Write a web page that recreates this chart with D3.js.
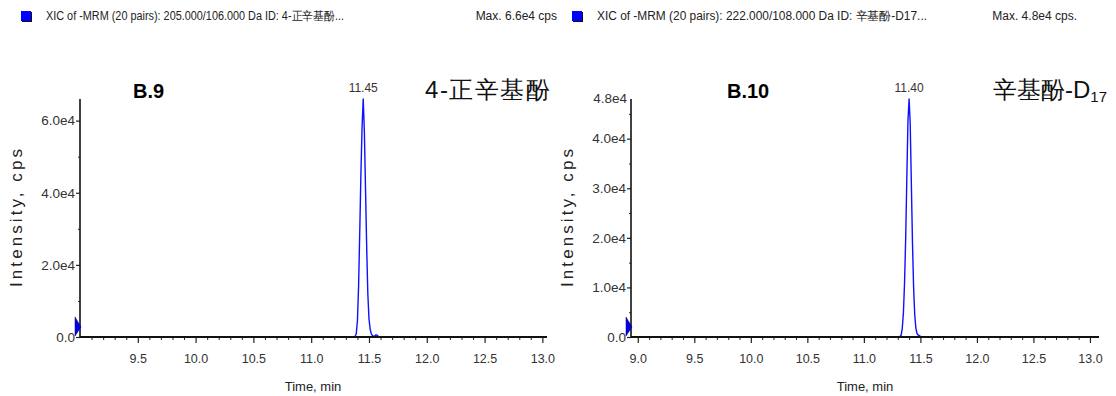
<!DOCTYPE html>
<html><head><meta charset="utf-8">
<script src="https://cdn.jsdelivr.net/npm/d3@7"></script>
<style>
html,body{margin:0;padding:0;background:#fff;}
svg{display:block;}
text{font-family:"Liberation Sans",Arial,sans-serif;}
</style></head>
<body>
<svg id="c" width="1116" height="396"></svg>
<script>
// ---- data ----
const leftTitle = "XIC of -MRM (20 pairs): 205.000/106.000 Da ID: 4-正辛基酚...";
const leftMax = "Max. 6.6e4 cps";
const rightTitle = "XIC of -MRM (20 pairs): 222.000/108.000 Da ID: 辛基酚-D17...";
const rightMax = "Max. 4.8e4 cps.";

const leftTime = [9.00, 11.37, 11.38, 11.39, 11.40, 11.41, 11.42, 11.43, 11.44, 11.45, 11.46, 11.47, 11.48, 11.49, 11.50, 11.51, 11.52, 11.53, 11.54, 11.55, 11.56, 11.57, 11.58, 11.59, 13.04];
const leftIntensity = [0, 0, 200, 900, 4500, 14000, 29000, 45000, 58000, 66000, 57000, 41000, 25000, 12000, 5000, 2200, 900, 400, 200, 300, 600, 500, 150, 0, 0];

const rightTime = [8.94, 11.31, 11.32, 11.33, 11.34, 11.35, 11.36, 11.37, 11.38, 11.39, 11.40, 11.41, 11.42, 11.43, 11.44, 11.45, 11.46, 11.47, 11.48, 11.49, 11.50, 11.51, 13.08];
const rightIntensity = [0, 0, 100, 400, 1800, 5000, 11000, 20000, 32000, 43500, 48000, 43000, 31000, 19000, 10000, 4500, 1800, 700, 400, 300, 150, 0, 0];

const leftYTicks = [0, 20000, 40000, 60000];
const leftYTickLabels = ["0.0", "2.0e4", "4.0e4", "6.0e4"];
const leftYMinor = [10000, 30000, 50000];
const rightYTicks = [0, 10000, 20000, 30000, 40000];
const rightYTickLabels = ["0.0", "1.0e4", "2.0e4", "3.0e4", "4.0e4"];
const rightYMinor = [5000, 15000, 25000, 35000, 45000];

const leftXTicks = [9.5, 10.0, 10.5, 11.0, 11.5, 12.0, 12.5, 13.0];
const rightXTicks = [9.0, 9.5, 10.0, 10.5, 11.0, 11.5, 12.0, 12.5, 13.0];
const xMinor = [9.1,9.2,9.3,9.4,9.6,9.7,9.8,9.9,10.1,10.2,10.3,10.4,10.6,10.7,10.8,10.9,11.1,11.2,11.3,11.4,11.6,11.7,11.8,11.9,12.1,12.2,12.3,12.4,12.6,12.7,12.8,12.9];

const leftPeakLabel = {t: 11.45, v: 66000, text: "11.45"};
const rightPeakLabel = {t: 11.40, v: 48000, text: "11.40"};

const svg = d3.select("#c");

function panel(o){
  const g = svg.append("g");
  const x = d3.scaleLinear().domain(o.xDomain).range(o.xRange);
  const y = d3.scaleLinear().domain(o.yDomain).range([337, 99]);

  // header
  g.append("rect").attr("x", o.hx+1).attr("y", 12).attr("width", 10).attr("height", 10).attr("fill", "#111");
  g.append("rect").attr("x", o.hx).attr("y", 11).attr("width", 10).attr("height", 10).attr("fill", "#0000ff");
  g.append("text").attr("x", o.hx+25).attr("y", 20).attr("font-size", 12).attr("fill","#222").text(o.title)
    .attr("textLength", o.titleLen).attr("lengthAdjust","spacingAndGlyphs");
  g.append("text").attr("x", o.maxX).attr("y", 20).attr("font-size", 12).attr("fill","#222")
    .attr("text-anchor","end").text(o.maxText);

  // line
  const line = d3.line().x((d,i)=>x(o.time[i])).y(d=>y(d));
  g.append("path").datum(o.vals).attr("d", line).attr("fill","none")
    .attr("stroke","#1010ff").attr("stroke-width",1.4).attr("stroke-linejoin","round");

  // peak label
  g.append("text").attr("x", x(o.peak.t)).attr("y", y(o.peak.v)-7).attr("font-size", 12)
    .attr("text-anchor","middle").attr("fill","#3a3030").text(o.peak.text);

  // y axis
  const ya = g.append("g").attr("transform", `translate(${o.xRange[0]},0)`)
    .call(d3.axisLeft(y).tickValues(o.yTicks).tickFormat((d,i)=>o.yLabels[i]).tickSize(4).tickPadding(1));
  ya.select(".domain").remove();
  ya.selectAll(".tick line").attr("stroke","#222").attr("stroke-width",1.2);
  ya.selectAll("text").attr("font-size", 13.5).attr("fill","#333");
  g.append("g").attr("transform", `translate(${o.xRange[0]},0)`)
    .call(d3.axisLeft(y).tickValues(o.yMinor).tickFormat("").tickSize(2))
    .call(s=>{s.select(".domain").remove(); s.selectAll("line").attr("stroke","#333");});
  if (o.topLabel) {
    g.append("text").attr("x", o.xRange[0]-4).attr("y", 103).attr("font-size",13.5).attr("fill","#333")
      .attr("text-anchor","end").text(o.topLabel);
  }
  g.append("line").attr("x1", o.xRange[0]).attr("x2", o.xRange[0]).attr("y1", 99).attr("y2", 338)
    .attr("stroke","#111").attr("stroke-width",1.6);

  // x axis
  const xa = g.append("g").attr("transform","translate(0,337)")
    .call(d3.axisBottom(x).tickValues(o.xTicks).tickFormat(d3.format(".1f")).tickSize(6).tickPadding(11));
  xa.select(".domain").remove();
  xa.selectAll(".tick line").attr("stroke","#222").attr("stroke-width",1.2);
  xa.selectAll("text").attr("font-size", 12.5).attr("fill","#333");
  g.append("g").attr("transform","translate(0,337)")
    .call(d3.axisBottom(x).tickValues(xMinor).tickFormat("").tickSize(3))
    .call(s=>{s.select(".domain").remove(); s.selectAll("line").attr("stroke","#333").attr("stroke-width",1.1);});
  g.append("line").attr("x1", o.xRange[0]).attr("x2", o.xRange[1]).attr("y1", 337).attr("y2", 337)
    .attr("stroke","#111").attr("stroke-width",1.8);

  // blue marker
  const x0 = o.xRange[0];
  g.append("path").attr("d", `M${x0-5},317 L${x0+1},327 L${x0-5},336 Z`).attr("fill","#0000ee").attr("stroke","#000066").attr("stroke-width",0.5);

  // axis titles
  g.append("text").attr("transform", `translate(${o.ylabX},218) rotate(-90)`).attr("text-anchor","middle")
    .attr("font-size", 17).attr("fill","#222")
    .attr("textLength", 138).attr("lengthAdjust","spacing").text("Intensity, cps");
  g.append("text").attr("x", o.xlabX).attr("y", 391).attr("text-anchor","middle")
    .attr("font-size", 13).attr("fill","#222").text("Time, min");

  // annotations
  g.append("text").attr("x", o.bx).attr("y", 98).attr("font-family","Open Sans, Liberation Sans, sans-serif")
    .attr("font-weight","bold").attr("font-size", 20).attr("fill","#000").text(o.btext);
  return g;
}

panel({xDomain:[9.0,13.04], xRange:[80,547], yDomain:[0,66000], hx:21, title:leftTitle, titleLen:298,
  maxText:leftMax, maxX:557, time:leftTime, vals:leftIntensity, peak:leftPeakLabel,
  yTicks:leftYTicks, yLabels:leftYTickLabels, yMinor:leftYMinor, xTicks:leftXTicks,
  ylabX:22, xlabX:313, bx:133, btext:"B.9"});
panel({xDomain:[8.94,13.08], xRange:[631,1099], yDomain:[0,48000], hx:572, title:rightTitle, titleLen:330,
  maxText:rightMax, maxX:1077, time:rightTime, vals:rightIntensity, peak:rightPeakLabel,
  yTicks:rightYTicks, yLabels:rightYTickLabels, yMinor:rightYMinor, xTicks:rightXTicks, topLabel:"4.8e4",
  ylabX:573, xlabX:865, bx:727, btext:"B.10"});

// Chinese annotations
svg.append("text").attr("x", 425).attr("y", 98).attr("font-family","Noto Sans CJK SC, sans-serif")
  .attr("font-size", 24).attr("fill","#111").attr("textLength",125).attr("lengthAdjust","spacing").text("4-正辛基酚");
const t2 = svg.append("text").attr("x", 993).attr("y", 98).attr("font-family","Noto Sans CJK SC, sans-serif")
  .attr("font-size", 24).attr("fill","#111");
t2.append("tspan").text("辛基酚-D");
t2.append("tspan").attr("dy", 4).attr("font-size", 15).text("17");
</script>
</body></html>
